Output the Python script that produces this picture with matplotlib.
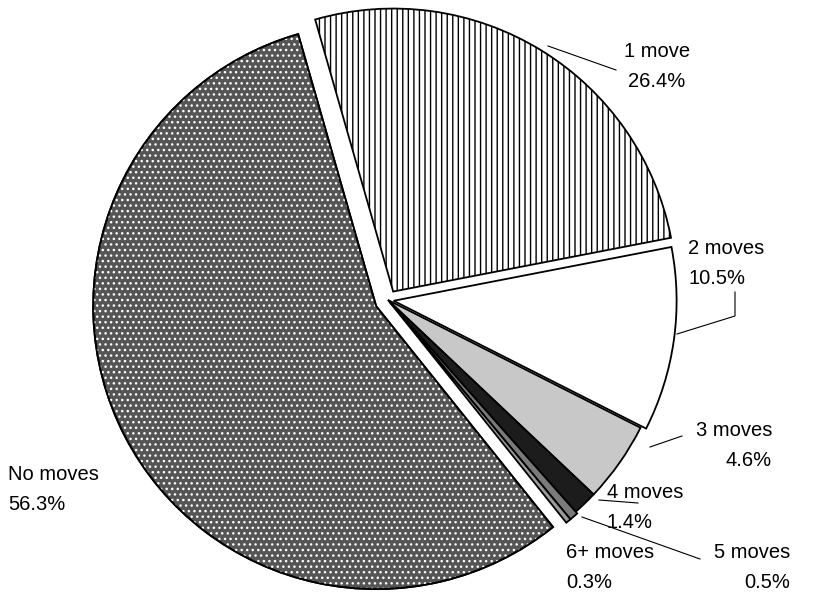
import matplotlib
matplotlib.use("Agg")
import matplotlib.pyplot as plt
from matplotlib.patches import Wedge

categories = ["1 move", "2 moves", "3 moves", "4 moves", "5 moves", "6+ moves", "No moves"]
shares = [26.4, 10.5, 4.6, 1.4, 0.5, 0.3, 56.3]
pct_labels = ["26.4%", "10.5%", "4.6%", "1.4%", "0.5%", "0.3%", "56.3%"]

face_colors = ["white", "white", "#c8c8c8", "#1c1c1c", "#7a7a7a", "#9a9a9a", "#555555"]
hatches = ["|||", None, None, None, None, None, None]
explode = [0.035, 0.02, 0.0, 0.0, 0.008, 0.008, 0.047]

W, H = 814, 594
CX, CY, R = 388.0, 300.0, 283.0  # pie centre and radius in pixels


def px(x, y):
    """Pixel position -> data units (pie radius = 1)."""
    return (x - CX) / R, (CY - y) / R


fig = plt.figure(figsize=(W / 100, H / 100), dpi=100)
ax = fig.add_axes([0, 0, 1, 1])

wedges, _ = ax.pie(
    shares,
    explode=explode,
    colors=face_colors,
    startangle=106,
    counterclock=False,
    radius=1.0,
    wedgeprops=dict(edgecolor="black", linewidth=1.3),
)
for w, h in zip(wedges, hatches):
    if h:
        w.set_hatch(h)

ax.set_xlim(-CX / R, (W - CX) / R)
ax.set_ylim(-(H - CY) / R, CY / R)
ax.set_aspect("equal")
ax.axis("off")

# dotted texture over the "No moves" slice
nm = wedges[-1]
ax.add_patch(Wedge(nm.center, nm.r, nm.theta1, nm.theta2, facecolor="none",
                   edgecolor="white", hatch="...", linewidth=0, zorder=nm.get_zorder() + 0.1))
ax.add_patch(Wedge(nm.center, nm.r, nm.theta1, nm.theta2, facecolor="none",
                   edgecolor="black", linewidth=1.3, zorder=nm.get_zorder() + 0.2))

font = dict(family=["Liberation Sans", "DejaVu Sans"], fontsize=14.5, color="black")

# (x, y of name line, y of percent line, alignment) in pixels
label_pos = [
    (657, 52, 82, "center"),
    (688, 249, 279, "left"),
    (772, 430, 460, "right"),
    (607, 492, 522, "left"),
    (790, 552, 582, "right"),
    (566, 552, 582, "left"),
    (8, 475, 505, "left"),
]
for name, pct, (x, y1, y2, ha) in zip(categories, pct_labels, label_pos):
    ax.text(*px(x, y1), name, ha=ha, va="center", **font)
    ax.text(*px(x, y2), pct, ha=ha, va="center", **font)

# leader lines
leaders = [
    [(616, 70), (548, 46)],
    [(735, 292), (735, 316), (677, 334)],
    [(682, 436), (650, 447)],
    [(599, 500), (638, 503)],
    [(582, 517), (700, 559)],
]
for pts in leaders:
    xs, ys = zip(*[px(x, y) for x, y in pts])
    ax.plot(xs, ys, color="black", linewidth=0.8)

fig.savefig("out.png", dpi=100, facecolor="white")
